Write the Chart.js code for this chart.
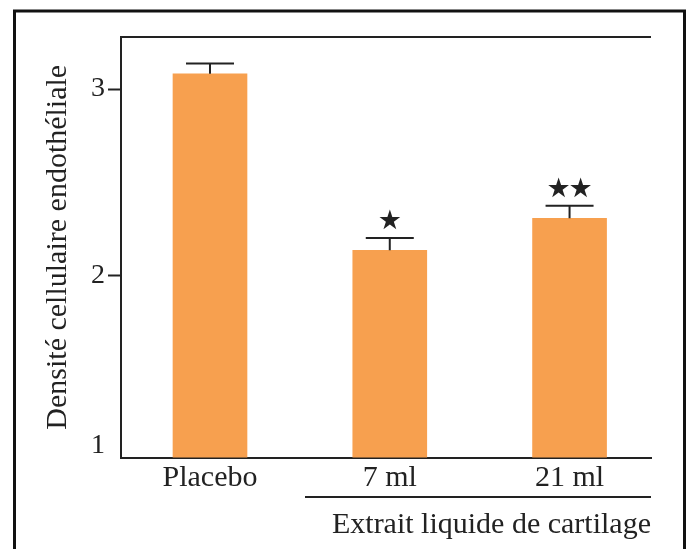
<!DOCTYPE html>
<html>
<head>
<meta charset="utf-8">
<script src="https://cdn.jsdelivr.net/npm/chart.js@4.4.1/dist/chart.umd.min.js"></script>
<style>
  body { margin: 0; background: #fff; }
  canvas { display: block; }
</style>
</head>
<body>
<canvas id="graph1" width="691" height="549"></canvas>
<script>
// data
var categories = ['Placebo', '7 ml', '21 ml'];
var densite = [3.082, 2.134, 2.306];
var erreur = [0.056, 0.066, 0.067];
var signif = ['', '\u2605', '\u2605\u2605'];
var yTicks = [1, 2, 3];
var groupLabel = 'Extrait liquide de cartilage';

var serif = '"Liberation Serif", "Times New Roman", serif';
var ink = '#222222';

// outer frame, top line, error bars, stars, bracket under the 2 doses
var decor = {
    id: 'decor',
    beforeDraw: function(chart) {
        var c = chart.ctx;
        c.save();
        c.fillStyle = '#fff';
        c.fillRect(0, 0, chart.width, chart.height);
        c.restore();
    },
    afterDraw: function(chart) {
        var c = chart.ctx;
        var area = chart.chartArea;
        var x = chart.scales.x, y = chart.scales.y;
        c.save();
        c.strokeStyle = '#111';
        c.lineWidth = 3;
        c.strokeRect(14.5, 11, 670, 600);

        c.strokeStyle = ink;
        c.lineWidth = 2;
        c.beginPath();
        c.moveTo(area.left, area.top);
        c.lineTo(area.right, area.top);
        c.stroke();

        // error bars
        for (var i = 0; i < densite.length; i++) {
            var px = x.getPixelForValue(i);
            var top = y.getPixelForValue(densite[i] + erreur[i]);
            c.beginPath();
            c.moveTo(px, y.getPixelForValue(densite[i]));
            c.lineTo(px, top);
            c.moveTo(px - 24, top);
            c.lineTo(px + 24, top);
            c.stroke();

            // stars
            var s = signif[i];
            c.fillStyle = ink;
            c.font = '27px "DejaVu Sans"';
            c.textAlign = 'center';
            c.textBaseline = 'middle';
            for (var k = 0; k < s.length; k++) {
                c.fillText(s[k], px + (k - (s.length - 1) / 2) * 22, top - 16);
            }
        }

        // line above the group label
        c.beginPath();
        c.moveTo(305, 497);
        c.lineTo(area.right, 497);
        c.stroke();
        c.restore();
    }
};

var ctx = document.getElementById('graph1').getContext('2d');
var myChart = new Chart(ctx, {
    type: 'bar',
    data: {
        datasets: [{
            data: densite.map(function(v, i) { return {x: i, y: v}; }),
            backgroundColor: '#F7A04F',
            borderWidth: 0,
            barThickness: 74
        }]
    },
    options: {
        responsive: false,
        animation: false,
        layout: { padding: { left: 0, top: 37, right: 40, bottom: 0 } },
        plugins: {
            legend: { display: false },
            tooltip: { enabled: false }
        },
        scales: {
            x: {
                type: 'linear',
                offset: false,
                min: -0.495,
                max: 2.453,
                afterBuildTicks: function(scale) {
                    scale.ticks = categories.map(function(c, i) { return {value: i}; });
                },
                afterFit: function(scale) { scale.height = 91.5; },
                border: { display: true, color: ink, width: 2 },
                grid: { display: false, drawTicks: false },
                ticks: {
                    padding: 3,
                    color: ink,
                    font: { family: serif, size: 30 },
                    callback: function(v) { return categories[v]; }
                },
                title: {
                    display: true,
                    text: groupLabel,
                    align: 'end',
                    color: ink,
                    font: { family: serif, size: 30 },
                    padding: { top: 0, bottom: 6 }
                }
            },
            y: {
                min: 1.02,
                max: 3.28,
                afterBuildTicks: function(scale) {
                    // the "1" label sits a little above the axis in the figure
                    scale.ticks = yTicks.map(function(v) { return {value: v === 1 ? 1.086 : v}; });
                },
                afterFit: function(scale) { scale.width = 121; },
                border: { display: true, color: ink, width: 2 },
                grid: {
                    drawOnChartArea: false,
                    tickLength: 13,
                    tickWidth: 2,
                    tickColor: function(c) { return c.tick && c.tick.value < 1.5 ? 'rgba(0,0,0,0)' : ink; }
                },
                ticks: {
                    padding: 3,
                    color: ink,
                    font: { family: serif, size: 28 },
                    callback: function(v) { return v < 1.5 ? '1' : String(v); }
                },
                title: {
                    display: true,
                    text: 'Densité cellulaire endothéliale',
                    color: ink,
                    font: { family: serif, size: 30 },
                    padding: { top: 40, bottom: 0 }
                }
            }
        }
    },
    plugins: [decor]
});
</script>
</body>
</html>
